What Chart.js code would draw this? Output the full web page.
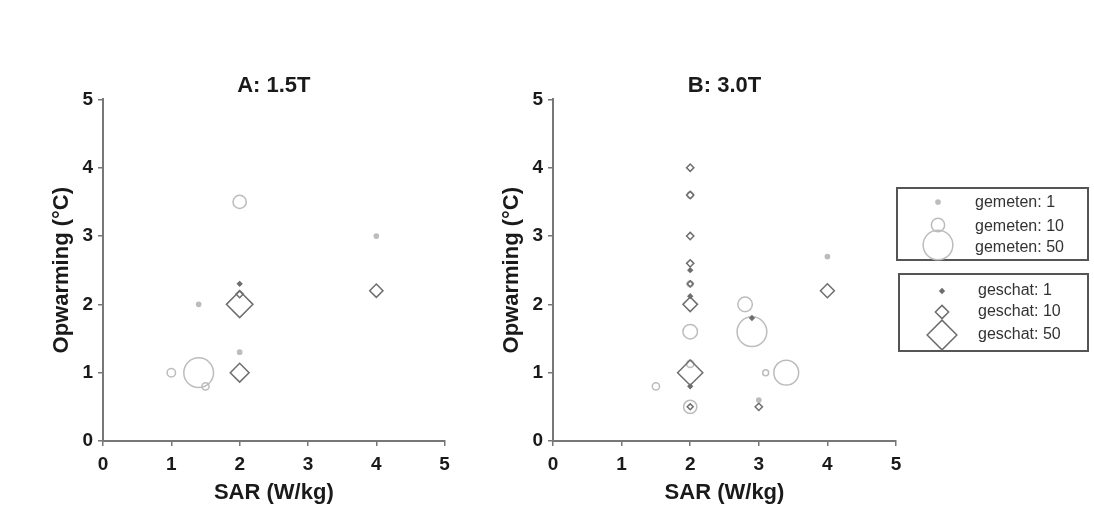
<!DOCTYPE html>
<html>
<head>
<meta charset="utf-8">
<script src="https://cdn.jsdelivr.net/npm/chart.js@4.4.1/dist/chart.umd.min.js"></script>
<style>
  body { margin: 0; background: #fff; width: 1094px; height: 518px; overflow: hidden; position: relative; }
  canvas { position: absolute; top: 0; }
  #chartA { left: 0; }
  #chartB { left: 450px; }
</style>
</head>
<body>
<canvas id="chartA" width="461" height="518"></canvas>
<canvas id="chartB" width="644" height="518"></canvas>
<script>
// tick labels, same on both axes of both panels
var tickValues = [0, 1, 2, 3, 4, 5];

// A: 1.5T - gemeten (measured), n = number of cases
var aMeasX = [1, 1.4, 1.5, 1.4, 2, 2, 4];
var aMeasY = [1, 1, 0.8, 2, 3.5, 1.3, 3];
var aMeasN = [4, 50, 3, 1, 10, 1, 1];

// A: 1.5T - geschat (estimated)
var aEstX = [2, 2, 2, 2, 4];
var aEstY = [2, 2.15, 2.3, 1, 2.2];
var aEstN = [40, 3, 1, 20, 10];

// B: 3.0T - gemeten
var bMeasX = [2, 2, 2, 2, 1.5, 2.8, 2.9, 3.4, 3.1, 3, 4, 2];
var bMeasY = [3.6, 2.3, 1.6, 1.13, 0.8, 2, 1.6, 1, 1, 0.6, 2.7, 0.5];
var bMeasN = [2, 2, 12, 3, 3, 12, 50, 35, 2, 1, 1, 10];

// B: 3.0T - geschat
var bEstX = [2, 2, 2, 2, 2, 2, 2, 2, 2, 2, 2, 3, 4, 2.9];
var bEstY = [4, 3.6, 3, 2.6, 2.5, 2.3, 2.12, 2, 1, 0.8, 0.5, 0.5, 2.2, 1.8];
var bEstN = [3, 3, 3, 3, 1, 2, 1, 12, 36, 1, 2, 3, 11, 1];

// legend entries
var legendCounts = [1, 10, 50];

var FONT = "'Liberation Sans', Arial, sans-serif";
var measColor = "#bcbcbc";
var estColor = "#6e6e6e";

// marker radius grows with sqrt of the count (area ~ count)
function sizeOf(n) {
  return 2.1 * Math.sqrt(n);
}

function toPoints(xs, ys, ns) {
  var pts = [];
  for (var i = 0; i < xs.length; i++) {
    pts.push({ x: xs[i], y: ys[i], n: ns[i] });
  }
  return pts;
}

function makeDataset(label, pts, shape, color) {
  return {
    label: label,
    data: pts,
    pointStyle: shape,
    borderColor: color,
    borderWidth: 1.5,
    pointRadius: function (ctx) { return ctx.raw ? sizeOf(ctx.raw.n) : 0; },
    backgroundColor: function (ctx) { return ctx.raw && ctx.raw.n <= 1 ? color : "rgba(0,0,0,0)"; },
    clip: false,
  };
}

// legend with the two boxes, drawn on chart B's canvas
var legendPlugin = {
  id: "sizeLegend",
  afterDraw: function (chart) {
    if (!chart.options.plugins.sizeLegend) return;
    var ctx = chart.ctx;
    var ox = 440, oy = 180;
    ctx.save();
    ctx.strokeStyle = "#555";
    ctx.lineWidth = 2;
    ctx.strokeRect(ox + 7, oy + 8, 191, 72);
    ctx.strokeRect(ox + 9, oy + 94, 189, 77);

    ctx.font = "16px " + FONT;
    ctx.fillStyle = "#333";
    ctx.textBaseline = "middle";

    var measY = [22, 45, 65];
    var measTextY = [23, 47, 68];
    var estY = [111, 132, 155];
    var estTextY = [111, 132, 155];
    for (var i = 0; i < legendCounts.length; i++) {
      var n = legendCounts[i];
      var r = sizeOf(n);
      // circle
      ctx.beginPath();
      ctx.arc(ox + 48, oy + measY[i], r, 0, Math.PI * 2);
      ctx.lineWidth = 1.5;
      ctx.strokeStyle = measColor;
      if (n <= 1) { ctx.fillStyle = measColor; ctx.fill(); }
      ctx.stroke();
      ctx.fillStyle = "#333";
      ctx.fillText("gemeten: " + n, ox + 85, oy + measTextY[i]);
      // diamond
      var cx = ox + 52, cy = oy + estY[i];
      ctx.beginPath();
      ctx.moveTo(cx, cy - r);
      ctx.lineTo(cx + r, cy);
      ctx.lineTo(cx, cy + r);
      ctx.lineTo(cx - r, cy);
      ctx.closePath();
      ctx.strokeStyle = estColor;
      if (n <= 1) { ctx.fillStyle = estColor; ctx.fill(); }
      ctx.stroke();
      ctx.fillStyle = "#333";
      ctx.fillText("geschat: " + n, ox + 88, oy + estTextY[i]);
    }
    ctx.restore();
  },
};

function axisOptions(titleText, horizontal) {
  var opts = {
    type: "linear",
    min: 0,
    max: 5,
    afterBuildTicks: function (scale) {
      scale.ticks = tickValues.map(function (v) { return { value: v }; });
    },
    ticks: {
      color: "#1a1a1a",
      padding: horizontal ? 7 : 5,
      font: { family: FONT, size: 19, weight: "bold" },
    },
    grid: {
      drawOnChartArea: false,
      drawTicks: true,
      tickLength: 5,
      color: "#777",
      lineWidth: 1.5,
    },
    border: { color: "#777", width: 2 },
    title: {
      display: true,
      text: titleText,
      color: "#1a1a1a",
      font: { family: FONT, size: 22, weight: "bold" },
      padding: horizontal ? { top: 0, bottom: 12 } : { top: 49, bottom: 0 },
    },
  };
  if (horizontal) {
    opts.afterFit = function (scale) { scale.height = 77; };
  } else {
    opts.afterFit = function (scale) { scale.width = 103; };
  }
  return opts;
}

function drawPanel(canvasId, title, measPts, estPts, rightPad, withLegend) {
  var ctx = document.getElementById(canvasId).getContext("2d");
  return new Chart(ctx, {
    type: "scatter",
    data: {
      datasets: [
        makeDataset("geschat", estPts, "rectRot", estColor),
        makeDataset("gemeten", measPts, "circle", measColor),
      ],
    },
    options: {
      responsive: false,
      animation: false,
      events: [],
      layout: { padding: { top: 73, right: rightPad, bottom: 0, left: 0 } },
      plugins: {
        legend: { display: false },
        tooltip: { enabled: false },
        title: {
          display: true,
          text: title,
          fullSize: false,
          color: "#1a1a1a",
          font: { family: FONT, size: 22, weight: "bold" },
          padding: { top: 0, bottom: 0 },
        },
        sizeLegend: withLegend,
      },
      scales: {
        x: axisOptions("SAR (W/kg)", true),
        y: axisOptions("Opwarming (\u00B0C)", false),
      },
    },
    plugins: [legendPlugin],
  });
}

drawPanel("chartA", "A: 1.5T", toPoints(aMeasX, aMeasY, aMeasN), toPoints(aEstX, aEstY, aEstN), 5, false);
drawPanel("chartB", "B: 3.0T", toPoints(bMeasX, bMeasY, bMeasN), toPoints(bEstX, bEstY, bEstN), 198, true);
</script>
</body>
</html>
